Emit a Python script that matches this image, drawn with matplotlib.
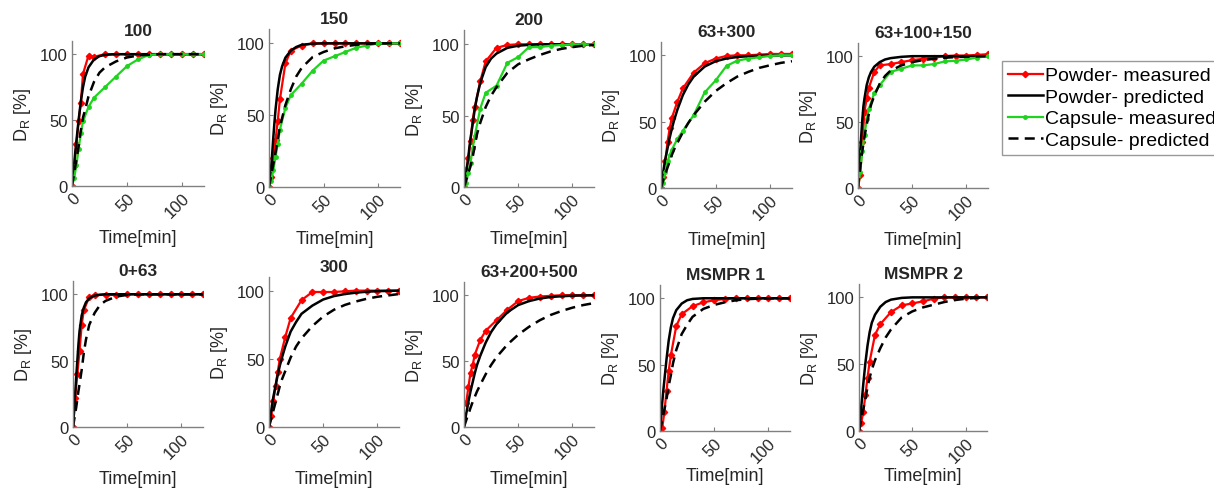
import numpy as np
import matplotlib
matplotlib.use("Agg")
import matplotlib.pyplot as plt

plt.rcParams['font.family'] = ['Liberation Sans', 'DejaVu Sans']
plt.rcParams['mathtext.fontset'] = 'custom'
plt.rcParams['mathtext.rm'] = 'Liberation Sans'

# time points
t_meas = [0, 2, 4, 6, 8, 10, 15, 20, 30, 40, 50, 60, 70, 80, 90, 100, 110, 120]
t_pred = [0, 1, 2, 3, 4, 5, 6, 8, 10, 12, 15, 20, 25, 30, 40, 50, 60, 70, 80, 90, 100, 110, 120]

titles = ['100', '150', '200', '63+300', '63+100+150',
          '0+63', '300', '63+200+500', 'MSMPR 1', 'MSMPR 2']

# panel "100"
p100_pow_meas = [0, 15, 32, 49, 63, 85, 99, 98, 100, 100, 100, 100, 100, 100, 100, 100, 100, 100]
p100_cap_meas = [0, 6, 16, 28, 40, 49, 60, 67, 75, 83, 91, 96, 99.5, 100, 100, 100, 100, 100]
p100_pow_pred = [0, 8, 17, 26, 34, 42, 50, 64, 75, 83, 90, 96, 98.5, 99.5, 100, 100, 100, 100, 100, 100, 100, 100, 100]
p100_cap_pred = [0, 5, 10, 15, 20, 25, 30, 42, 52, 58, 68, 79, 86, 90, 94.5, 97.5, 99, 99.6, 100, 100, 100, 100, 100]

# panel "150"
p150_pow_meas = [0, 7, 20, 33, 46, 61, 86, 95, 98.5, 100, 100, 100, 100, 100, 100, 100, 100, 100]
p150_cap_meas = [0, 4, 12, 21, 30, 40, 55, 64, 72, 81, 88, 91, 94, 97, 98.5, 100, 100, 100]
p150_pow_pred = [0, 7, 14, 24, 35, 45, 54, 68, 78, 84, 90, 95, 97.5, 99, 99.8, 100, 100, 100, 100, 100, 100, 100, 100]
p150_cap_pred = [0, 4, 8, 12, 16, 20, 24, 33, 42, 48, 57, 68, 77, 83, 90.5, 94, 96.5, 98, 99, 99.6, 100, 100, 100]

# panel "200"
p200_pow_meas = [0, 12, 20, 32, 47, 56, 74, 88, 97.5, 99.5, 100, 100, 100, 100, 100, 100, 100, 100]
p200_cap_meas = [0, 3, 10, 17, 27, 36, 55, 66, 71, 87, 91, 98, 98, 99, 99.5, 100, 100, 100]
p200_pow_pred = [0, 4, 9, 15, 21, 28, 34, 44, 55, 63, 73, 84, 90, 93.5, 97.5, 99, 99.6, 100, 100, 100, 100, 100, 100]
p200_cap_pred = [0, 2, 5, 7, 10, 12, 14.5, 21, 29, 37, 45, 56, 64, 70, 80, 86, 89.5, 92.5, 95, 96.8, 98, 99, 99.5]

# panel "63+300"
p363_pow_meas = [0, 8, 20, 35, 45, 53, 65, 75, 87, 94, 97.5, 99.5, 100, 100, 100.5, 101, 101, 101]
p363_cap_meas = [0, 4, 12, 20, 25, 29, 37, 43, 55, 72, 81, 92, 96, 97.5, 98.5, 99.5, 100, 100]
p363_pow_pred = [0, 6, 12, 17, 22, 26, 30, 38, 45, 51, 59, 70, 78, 84, 91.5, 95.5, 97.6, 98.7, 99.3, 99.6, 99.8, 99.9, 100]
p363_cap_pred = [0, 3, 6, 8, 11, 13, 15.5, 20, 25, 29, 34, 42, 49, 55, 65, 73, 79, 84, 87.5, 90.5, 92.5, 94.3, 95.5]

# panel "63+100+150"
p3m_pow_meas = [0, 10, 35, 58, 68, 76, 88, 93, 94, 95.5, 97, 98, 99, 100, 100.5, 100.5, 101, 101.5]
p3m_cap_meas = [0, 12, 28, 40, 52, 60, 72, 78, 88, 90.5, 93, 93, 94, 96, 96.5, 97.5, 99, 100]
p3m_pow_pred = [0, 15, 28, 40, 52, 62, 68, 78, 84, 88, 92, 95.5, 97.5, 98.5, 99.5, 100, 100, 100, 100, 100, 100, 100, 100]
p3m_cap_pred = [0, 8, 15, 22, 28, 34, 39, 48, 56, 63, 70, 79, 85, 89, 93, 95.5, 97, 98, 98.8, 99.3, 99.6, 99.8, 100]

# panel "0+63"
p063_pow_meas = [0, 22, 40, 57, 77, 88, 98, 99.5, 99.5, 99.5, 100, 100, 100, 100, 100, 100, 100, 100]
p063_pow_pred = [0, 12, 25, 38, 50, 62, 72, 84, 90, 94, 97, 99, 99.7, 100, 100, 100, 100, 100, 100, 100, 100, 100, 100]
p063_cap_pred = [0, 5, 10, 15, 21, 27, 32, 43, 56, 66, 77, 86, 92, 95, 98.3, 99.5, 100, 100, 100, 100, 100, 100, 100]

# panel "300"
p300_pow_meas = [0, 8, 19, 30, 40, 50, 66, 80, 93, 99, 99, 99, 99.5, 100, 100, 100, 100, 100]
p300_pow_pred = [0, 6, 12, 17, 22, 26, 30, 38, 45, 51, 59, 70, 77, 83, 89, 93.5, 96, 97.5, 98.5, 99.2, 99.6, 99.8, 100]
p300_cap_pred = [0, 3, 6, 9, 12, 15, 18, 24, 30, 35, 41, 51, 59, 65, 74, 81, 86, 89.5, 92, 94, 95.5, 96.5, 97.5]

# panel "63+200+500"
p3w_pow_meas = [np.nan, 18, 30, 41, 47, 55, 66, 73, 81, 89, 95.5, 98, 99, 99.5, 100, 100, 100, 100]
p3w_pow_pred = [0, 5, 10, 14, 19, 23, 27, 34, 41, 47, 54, 64, 72, 78, 87, 92.5, 95.5, 97.5, 98.6, 99.2, 99.6, 99.8, 99.9]
p3w_cap_pred = [0, 2.5, 5, 7.5, 10, 12, 14.5, 19, 23, 27, 32, 40, 47, 53, 62.5, 70, 76, 81, 85, 88, 90.5, 92.5, 94]

# panel "MSMPR 1"
pm1_pow_meas = [0, 2, 14, 30, 45, 57, 79, 88, 94, 97, 98.5, 99.5, 100, 100, 100, 100, 100, 100]
pm1_pow_pred = [0, 10, 21, 30, 38, 46, 54, 68, 78, 85, 91, 96, 98.5, 99.5, 100, 100, 100, 100, 100, 100, 100, 100, 100]
pm1_cap_pred = [0, 4, 8, 12, 16, 20, 24, 34, 42, 51, 61, 73, 80, 86, 92, 95, 97, 98.5, 99.3, 99.7, 100, 100, 100]

# panel "MSMPR 2"
pm2_pow_meas = [0, 6, 14, 27, 40, 52, 72, 80, 89, 94, 95.5, 97, 99, 100, 100, 100, 100, 100]
pm2_pow_pred = [0, 8, 17, 26, 35, 43, 51, 64, 74, 81, 87, 93, 96.5, 98.3, 99.6, 100, 100, 100, 100, 100, 100, 100, 100]
pm2_cap_pred = [0, 4, 8, 12, 16, 20, 24, 33, 40, 46, 53, 62, 70, 76, 85, 89.5, 92.5, 94.5, 96.5, 98, 99, 99.6, 100]

panels = [
    (p100_pow_meas, p100_pow_pred, p100_cap_meas, p100_cap_pred),
    (p150_pow_meas, p150_pow_pred, p150_cap_meas, p150_cap_pred),
    (p200_pow_meas, p200_pow_pred, p200_cap_meas, p200_cap_pred),
    (p363_pow_meas, p363_pow_pred, p363_cap_meas, p363_cap_pred),
    (p3m_pow_meas, p3m_pow_pred, p3m_cap_meas, p3m_cap_pred),
    (p063_pow_meas, p063_pow_pred, None, p063_cap_pred),
    (p300_pow_meas, p300_pow_pred, None, p300_cap_pred),
    (p3w_pow_meas, p3w_pow_pred, None, p3w_cap_pred),
    (pm1_pow_meas, pm1_pow_pred, None, pm1_cap_pred),
    (pm2_pow_meas, pm2_pow_pred, None, pm2_cap_pred),
]

W, H = 1214, 489
# axes boxes in pixels: left, right, top, bottom
boxes = [(72, 204, 42, 187), (269, 400, 30, 188), (464, 594, 31, 188),
         (661, 792, 43, 189), (858, 988, 44, 189),
         (73, 203, 282, 428), (269, 399, 278, 428), (464, 594, 283, 428),
         (660, 790, 286, 432), (859, 987, 285, 432)]

fig = plt.figure(figsize=(W / 100, H / 100), dpi=100)

red = '#ff0000'
green = '#1ed41e'
axcol = '#808080'
txtcol = '#262626'

handles = None
for (l, r, t, b), title, (pm, pp, cm, cp) in zip(boxes, titles, panels):
    ax = fig.add_axes([l / W, 1 - b / H, (r - l) / W, (b - t) / H])
    h1, = ax.plot(t_meas, pm, '-', color=red, lw=1.6, marker='D', ms=3.2)
    h2, = ax.plot(t_pred, pp, '-', color='black', lw=1.8)
    h3 = None
    if cm is not None:
        h3, = ax.plot(t_meas, cm, '-', color=green, lw=1.6, marker='.', ms=5)
    h4, = ax.plot(t_pred, cp, '--', color='black', lw=1.8, dashes=(4, 2.5))
    if h3 is not None and handles is None:
        handles = [h1, h2, h3, h4]
    ax.set_xlim(0, 120)
    ax.set_ylim(0, 110)
    ax.set_xticks([0, 50, 100])
    ax.set_yticks([0, 50, 100])
    for s in ['top', 'right']:
        ax.spines[s].set_visible(False)
    for s in ['left', 'bottom']:
        ax.spines[s].set_color(axcol)
        ax.spines[s].set_linewidth(1.0)
    ax.tick_params(direction='in', length=3, color=axcol, labelcolor=txtcol,
                   labelsize=12, pad=3)
    plt.setp(ax.get_xticklabels(), rotation=45, ha='right', va='top',
             rotation_mode='anchor')
    # the two MSMPR panels sit lower, keep their label inside the figure
    xpad = 1 if b > 430 else 6
    ax.set_xlabel('Time[min]', fontsize=13, color=txtcol, labelpad=xpad)
    ax.set_ylabel(r'D$_\mathregular{R}$ [%]', fontsize=13, color=txtcol, labelpad=5)
    ax.set_title(title, fontsize=12.5, fontweight='bold', color=txtcol, pad=4)

fig.legend(handles, ['Powder- measured', 'Powder- predicted',
                     'Capsule- measured', 'Capsule- predicted'],
           loc='upper left', bbox_to_anchor=(1002 / W, 1 - 62 / H),
           fontsize=14, frameon=True, fancybox=False, edgecolor=axcol,
           handlelength=1.8, handletextpad=0.1, borderpad=0.3,
           labelspacing=0.2, borderaxespad=0)

fig.savefig('out.png', dpi=100)
